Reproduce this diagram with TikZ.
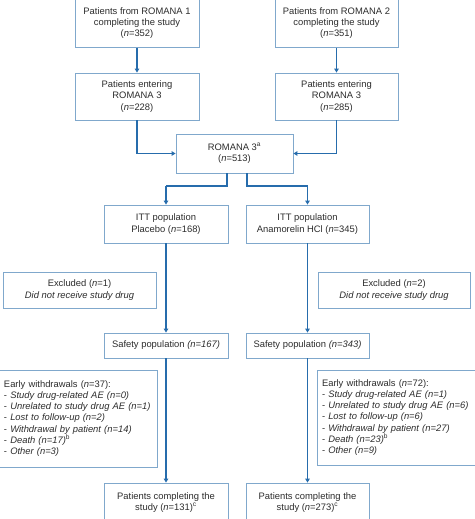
\documentclass[tikz,border=0pt]{standalone}
\usepackage{fontspec}
\setmainfont{Liberation Sans}
\usetikzlibrary{arrows.meta,positioning}

\definecolor{boxblue}{RGB}{128,168,204}
\definecolor{flowblue}{RGB}{38,108,172}
\definecolor{txtgray}{RGB}{45,45,45}

\tikzset{
  box/.style={draw=boxblue, line width=0.8pt, fill=white, text=txtgray,
    align=center, inner sep=2pt,
    font=\fontsize{9.4}{11.2}\selectfont},
  listbox/.style={box, align=left, inner xsep=5pt},
  flow/.style={draw=flowblue, line width=1.3pt,
    -{Triangle[width=4.5pt,length=4pt]}},
  elbow/.style={to path={|- (\tikztotarget) \tikztonodes}}
}

\begin{document}
\begin{tikzpicture}[x=1pt,y=-1pt]
  \useasboundingbox (0,0) rectangle (474,519);
  \begin{scope}[every node/.style={box}]
    % ROMANA 1 and 2
    \node (rom1) at (137,23) [minimum width=124pt, minimum height=49pt]
      {Patients from ROMANA 1\\completing the study\\(\textit{n}=352)};
    \node (rom2) at (336.5,23) [minimum width=123pt, minimum height=49pt]
      {Patients from ROMANA 2\\completing the study\\(\textit{n}=351)};
    \node (ent1) at (137,96.5) [minimum width=124pt, minimum height=47pt]
      {Patients entering\\ROMANA 3\\(\textit{n}=228)};
    \node (ent2) at (336.5,96.5) [minimum width=123pt, minimum height=47pt]
      {Patients entering\\ROMANA 3\\(\textit{n}=285)};
    % ROMANA 3
    \node (r3) at (234.5,153.5) [minimum width=117pt, minimum height=39pt]
      {ROMANA 3\textsuperscript{a}\\(\textit{n}=513)};
    % ITT
    \node (itt1) at (166,224) [minimum width=124pt, minimum height=38pt]
      {ITT population\\Placebo (\textit{n}=168)};
    \node (itt2) at (307.5,224) [minimum width=123pt, minimum height=38pt]
      {ITT population\\Anamorelin HCl (\textit{n}=345)};
    % excluded
    \node (exc1) at (79.5,290) [minimum width=153pt, minimum height=36pt]
      {Excluded (\textit{n}=1)\\\textit{Did not receive study drug}};
    \node (exc2) at (394,290) [minimum width=152pt, minimum height=36pt]
      {Excluded (\textit{n}=2)\\\textit{Did not receive study drug}};
    % safety
    \node (saf1) at (166,345.5) [minimum width=124pt, minimum height=25pt]
      {Safety population \textit{(n=167)}};
    \node (saf2) at (307.5,345.5) [minimum width=123pt, minimum height=25pt]
      {Safety population \textit{(n=343)}};
    % early withdrawals
    \node[listbox] (ew1) at (78,418.5) [minimum width=158pt, minimum height=97pt, text width=148pt]
      {Early withdrawals (\textit{n}=37):\\
       - \textit{Study drug-related AE (n=0)}\\
       - \textit{Unrelated to study drug AE (n=1)}\\
       - \textit{Lost to follow-up (n=2)}\\
       - \textit{Withdrawal by patient (n=14)}\\
       - \textit{Death (n=17)}\textsuperscript{b}\\
       - \textit{Other (n=3)}};
    \node[listbox] (ew2) at (397.5,417.5) [minimum width=161pt, minimum height=95pt, text width=151pt]
      {Early withdrawals (\textit{n}=72):\\
       - \textit{Study drug-related AE (n=1)}\\
       - \textit{Unrelated to study drug AE (n=6)}\\
       - \textit{Lost to follow-up (n=6)}\\
       - \textit{Withdrawal by patient (n=27)}\\
       - \textit{Death (n=23)}\textsuperscript{b}\\
       - \textit{Other (n=9)}};
    % completing
    \node (comp1) at (166,502.5) [minimum width=124pt, minimum height=39pt]
      {Patients completing the\\study (\textit{n}=131)\textsuperscript{c}};
    \node (comp2) at (307.5,502.5) [minimum width=123pt, minimum height=39pt]
      {Patients completing the\\study (\textit{n}=273)\textsuperscript{c}};
  \end{scope}
  \coordinate (split1) at (166,186);
  \coordinate (split2) at (307.5,186);
  \begin{scope}[every edge/.style={flow}]
    \path (rom1) edge (ent1);
    \path (rom2) edge (ent2);
    \path (ent1) edge[elbow] (r3);
    \path (ent2) edge[elbow] (r3);
    \path (split1) edge (itt1);
    \path (split2) edge (itt2);
    \path (itt1) edge (saf1);
    \path (itt2) edge (saf2);
    \path (saf1) edge (comp1);
    \path (saf2) edge (comp2);
  \end{scope}
  \draw[draw=flowblue, line width=1.3pt] ([xshift=-7.5pt]r3.south) |- (split1);
  \draw[draw=flowblue, line width=1.3pt] ([xshift=12.5pt]r3.south) |- (split2);
\end{tikzpicture}
\end{document}
